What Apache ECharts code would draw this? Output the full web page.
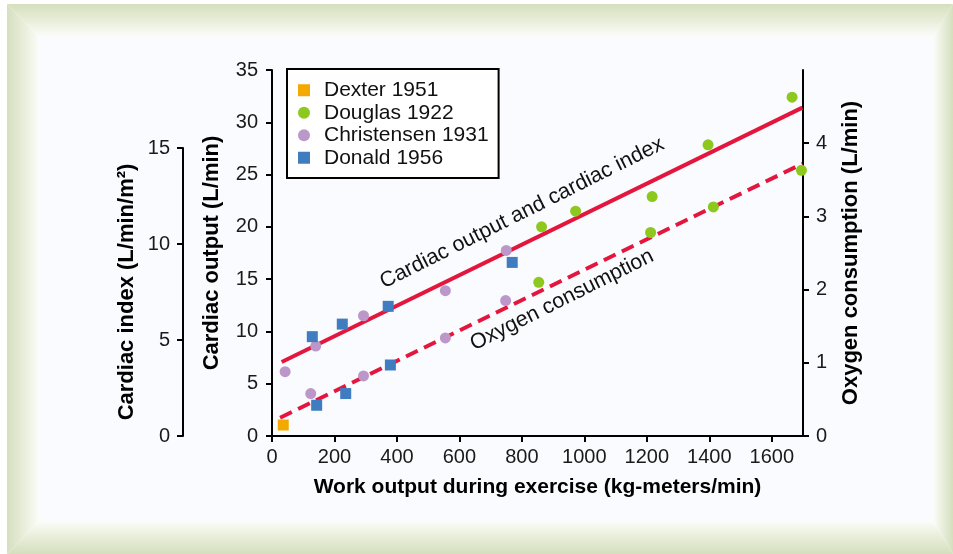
<!DOCTYPE html>
<html>
<head>
<meta charset="utf-8">
<script src="https://cdn.jsdelivr.net/npm/echarts@6/dist/echarts.min.js"></script>
<style>
html,body{margin:0;padding:0;background:#ffffff;}
#chart{width:953px;height:554px;}
</style>
</head>
<body>
<div id="chart"></div>
<script>
// ---- data ----
var xTicks = [0, 200, 400, 600, 800, 1000, 1200, 1400, 1600];
var coTicks = [0, 5, 10, 15, 20, 25, 30, 35];
var oxyTicks = [0, 1, 2, 3, 4];
var ciTicks = [0, 5, 10, 15];

var seriesNames = ['Dexter 1951', 'Douglas 1922', 'Christensen 1931', 'Donald 1956'];

// Dexter 1951
var dexterOxyWork = [36];
var dexterOxy = [0.15];

// Douglas 1922
var douglasCoWork = [863, 972, 1217, 1396, 1665];
var douglasCo = [20.0, 21.5, 22.9, 27.85, 32.4];
var douglasOxyWork = [854, 1212, 1413, 1695];
var douglasOxy = [2.10, 2.78, 3.13, 3.63];

// Christensen 1931
var christCoWork = [42, 140, 293, 555, 750];
var christCo = [6.15, 8.6, 11.5, 13.9, 17.75];
var christOxyWork = [124, 293, 555, 748];
var christOxy = [0.58, 0.82, 1.34, 1.85];

// Donald 1956
var donaldCoWork = [129, 225, 372, 769];
var donaldCo = [9.5, 10.7, 12.4, 16.6];
var donaldOxyWork = [143, 236, 379];
var donaldOxy = [0.42, 0.58, 0.97];

// trend lines (end points)
var coLineWork = [31, 1698];
var coLine = [7.07, 31.4];
var oxyLineWork = [26, 1698];
var oxyLine = [0.25, 3.72];

var lineLabels = ['Cardiac output and cardiac index', 'Oxygen consumption'];

// ---- styling ----
var colors = {
  dexter: '#f2a900',
  douglas: '#8cc81e',
  christensen: '#bb98c9',
  donald: '#3f7cc0',
  line: '#e3173e'
};
var FONT = 'Liberation Sans, Arial, Helvetica, sans-serif';
var green = '#d5dfbd';

function pairs(xs, ys) {
  return xs.map(function (x, i) { return [x, ys[i]]; });
}

function scatter(name, xs, ys, yIdx, symbol, color) {
  return {
    type: 'scatter', name: name, xAxisIndex: 0, yAxisIndex: yIdx,
    symbol: symbol, symbolSize: 11,
    itemStyle: { color: color, opacity: 1 },
    data: pairs(xs, ys), z: 4, silent: true
  };
}

function gradPoly(points, x, y, x2, y2) {
  return {
    type: 'polygon', z: -10, silent: true,
    shape: { points: points },
    style: {
      fill: new echarts.graphic.LinearGradient(x, y, x2, y2, [
        { offset: 0, color: green },
        { offset: 0.55, color: '#eaefdd' },
        { offset: 1, color: '#fcfdfa' }
      ])
    }
  };
}

function plain(v) { return String(v); }

var axisLine = { show: true, lineStyle: { color: '#000', width: 2 } };
var axisTick = { show: true, inside: false, length: 6, lineStyle: { color: '#000', width: 2 } };
var labelStyle = { color: '#1a1a1a', fontSize: 20, fontFamily: FONT, formatter: plain };
var nameStyleX = { color: '#000', fontSize: 21, fontWeight: 'bold', fontFamily: FONT };
var nameStyleY = { color: '#000', fontSize: 22, fontWeight: 'bold', fontFamily: FONT };

var chart = echarts.init(document.getElementById('chart'), null, { renderer: 'canvas' });

var option = {
  animation: false,
  backgroundColor: '#ffffff',
  textStyle: { fontFamily: FONT },
  graphic: [
    gradPoly([[7, 4], [953, 4], [933, 37], [40, 37]], 0, 0, 0, 1),
    gradPoly([[7, 4], [40, 37], [40, 520], [7, 554]], 0, 0, 1, 0),
    gradPoly([[953, 4], [953, 554], [933, 520], [933, 37]], 1, 0, 0, 0),
    gradPoly([[7, 554], [40, 520], [933, 520], [953, 554]], 0, 1, 0, 0),
    { type: 'rect', z: -10, silent: true, shape: { x: 40, y: 37, width: 893, height: 483 }, style: { fill: '#fafbfe' } },
    {
      type: 'text', z: 10, silent: true, x: 522, y: 213, rotation: 0.463,
      style: { text: lineLabels[0], fontSize: 21.5, fontFamily: FONT, fill: '#111', align: 'center', verticalAlign: 'middle' }
    },
    {
      type: 'text', z: 10, silent: true, x: 562, y: 300, rotation: 0.463,
      style: { text: lineLabels[1], fontSize: 21.5, fontFamily: FONT, fill: '#111', align: 'center', verticalAlign: 'middle' }
    }
  ],
  legend: {
    data: [
      { name: seriesNames[0], icon: 'rect' },
      { name: seriesNames[1], icon: 'circle' },
      { name: seriesNames[2], icon: 'circle' },
      { name: seriesNames[3], icon: 'rect' }
    ],
    orient: 'vertical', left: 287, top: 69,
    backgroundColor: '#ffffff',
    borderColor: '#000', borderWidth: 2, borderRadius: 0,
    padding: [10, 10, 9, 11],
    itemWidth: 12, itemHeight: 12, itemGap: 0,
    selectedMode: false,
    textStyle: { color: '#111', fontSize: 21, fontFamily: FONT, lineHeight: 22.5, padding: [0, 0, 0, 9] }
  },
  grid: [
    { left: 272, right: 150, top: 70, bottom: 118, containLabel: false },
    { left: 183, width: 10, top: 148, bottom: 118, containLabel: false }
  ],
  xAxis: [
    {
      type: 'value', gridIndex: 0, min: 0, max: 1700, interval: 200,
      name: 'Work output during exercise (kg-meters/min)', nameLocation: 'middle', nameGap: 41,
      nameTextStyle: nameStyleX,
      axisLine: axisLine, axisTick: Object.assign({ customValues: xTicks }, axisTick),
      axisLabel: Object.assign({ margin: 11, customValues: xTicks }, labelStyle),
      splitLine: { show: false }
    },
    { type: 'value', gridIndex: 1, min: 0, max: 1, show: false }
  ],
  yAxis: [
    {
      type: 'value', gridIndex: 0, position: 'left', min: 0, max: 35, interval: 5,
      name: 'Cardiac output (L/min)', nameLocation: 'middle', nameGap: 49, nameRotate: 90,
      nameTextStyle: nameStyleY,
      axisLine: axisLine, axisTick: Object.assign({ customValues: coTicks }, axisTick),
      axisLabel: Object.assign({ margin: 14, customValues: coTicks }, labelStyle),
      splitLine: { show: false }
    },
    {
      type: 'value', gridIndex: 1, position: 'left', min: 0, max: 15, interval: 5,
      name: 'Cardiac index (L/min/m²)', nameLocation: 'middle', nameGap: 45, nameRotate: 90,
      nameTextStyle: nameStyleY,
      axisLine: axisLine, axisTick: Object.assign({ customValues: ciTicks }, axisTick),
      axisLabel: Object.assign({ margin: 13, customValues: ciTicks }, labelStyle),
      splitLine: { show: false }
    },
    {
      type: 'value', gridIndex: 0, position: 'right', min: 0, max: 5, interval: 1,
      name: 'Oxygen consumption (L/min)', nameLocation: 'middle', nameGap: 37, nameRotate: 90,
      nameTextStyle: nameStyleY,
      axisLine: axisLine, axisTick: Object.assign({ customValues: oxyTicks }, axisTick),
      axisLabel: Object.assign({ margin: 13, customValues: oxyTicks }, labelStyle),
      splitLine: { show: false }
    }
  ],
  series: [
    {
      type: 'line', name: 'co-trend', xAxisIndex: 0, yAxisIndex: 0,
      data: pairs(coLineWork, coLine), showSymbol: false, silent: true, z: 3,
      lineStyle: { color: colors.line, width: 4, type: 'solid' }
    },
    {
      type: 'line', name: 'oxy-trend', xAxisIndex: 0, yAxisIndex: 2,
      data: pairs(oxyLineWork, oxyLine), showSymbol: false, silent: true, z: 3,
      lineStyle: { color: colors.line, width: 4, type: [13, 7] }
    },
    scatter(seriesNames[0], dexterOxyWork, dexterOxy, 2, 'rect', colors.dexter),
    scatter(seriesNames[1], douglasCoWork, douglasCo, 0, 'circle', colors.douglas),
    scatter(seriesNames[1], douglasOxyWork, douglasOxy, 2, 'circle', colors.douglas),
    scatter(seriesNames[2], christCoWork, christCo, 0, 'circle', colors.christensen),
    scatter(seriesNames[2], christOxyWork, christOxy, 2, 'circle', colors.christensen),
    scatter(seriesNames[3], donaldCoWork, donaldCo, 0, 'rect', colors.donald),
    scatter(seriesNames[3], donaldOxyWork, donaldOxy, 2, 'rect', colors.donald)
  ]
};
chart.setOption(option);
</script>
</body>
</html>
